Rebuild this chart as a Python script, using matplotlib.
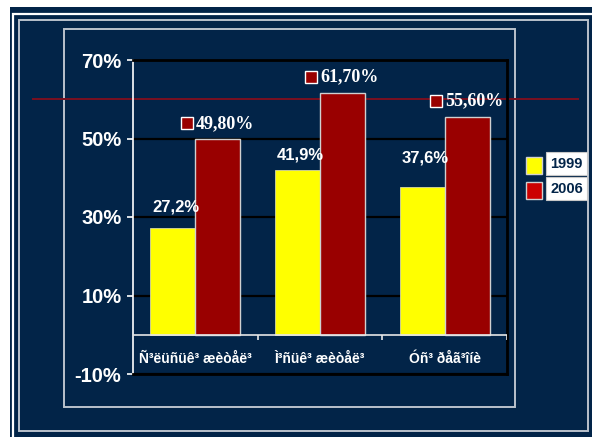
import matplotlib
matplotlib.use("Agg")
import matplotlib.pyplot as plt
import numpy as np
from matplotlib.patches import Rectangle
from matplotlib.transforms import offset_copy

# data
categories = ["Ñ³ëüñüê³ æèòåë³", "Ì³ñüê³ æèòåë³", "Óñ³ ðåã³îíè"]
years = ["1999", "2006"]
share_1999 = [27.2, 41.9, 37.6]
share_2006 = [49.8, 61.7, 55.6]
label_1999 = ["27,2%", "41,9%", "37,6%"]
label_2006 = ["49,80%", "61,70%", "55,60%"]
ref_level = 60
yticks = [-10, 10, 30, 50, 70]

NAVY = "#022448"
YELLOW = "#ffff00"
DARKRED = "#990000"
FRAME = "#b9c2cc"

W, H = 592, 437
def fx(x):
    return x / W
def fy(y):
    return 1 - y / H

fig = plt.figure(figsize=(W / 100, H / 100), dpi=100, facecolor="white")

# background and frames
fig.add_artist(Rectangle((fx(10), 0), 1 - fx(10), fy(7), transform=fig.transFigure,
                         fc=NAVY, ec="none", zorder=0))
fig.add_artist(Rectangle((fx(13), fy(440)), 1, fy(14) - fy(440), transform=fig.transFigure,
                         fc="none", ec="white", lw=1.6, zorder=1))
fig.add_artist(Rectangle((fx(19), fy(431)), fx(588) - fx(19), fy(20) - fy(431),
                         transform=fig.transFigure, fc="none", ec=FRAME, lw=1.4, zorder=1))
fig.add_artist(Rectangle((fx(64), fy(407)), fx(515) - fx(64), fy(29) - fy(407),
                         transform=fig.transFigure, fc="none", ec=FRAME, lw=1.4, zorder=1))

ax = fig.add_axes([fx(133), fy(374), fx(507) - fx(133), fy(60) - fy(374)])
ax.set_zorder(2)
ax.set_facecolor("none")

x = np.arange(len(categories))
bw = 0.36
b1 = ax.bar(x - bw / 2, share_1999, bw, color=YELLOW, edgecolor="#d8d8a0", lw=0.6, zorder=3)
b2 = ax.bar(x + bw / 2, share_2006, bw, color=DARKRED, edgecolor="#d0d0d0", lw=1.0, zorder=3)

ax.set_xlim(-0.5, len(categories) - 0.5)
ax.set_ylim(-10, 70)
ax.set_yticks(yticks)
ax.set_yticklabels([f"{v}%" for v in yticks])
ax.set_xticks([])
ax.set_axisbelow(True)
ax.yaxis.grid(True, color="black", lw=1.6)
ax.tick_params(axis="y", colors="white", length=4.3, width=1.2, pad=4)
for t in ax.get_yticklabels():
    t.set_fontfamily(["Liberation Sans", "DejaVu Sans"])
    t.set_fontweight("bold")
    t.set_fontsize(14.5)
    t.set_color("white")

ax.spines["left"].set_color("white")
ax.spines["left"].set_linewidth(1.2)
for s in ["top", "right", "bottom"]:
    ax.spines[s].set_color("black")
    ax.spines[s].set_linewidth(2.0)

# category axis at zero
ax.axhline(0, color="#e6e6e6", lw=1.2, zorder=4)
ax.vlines(np.arange(len(categories)) + 0.5, -1.3, 0, color="#e6e6e6", lw=1.2, zorder=4)
for xi, name in zip(x, categories):
    ax.text(xi, -6.3, name, ha="center", va="center", color="white", fontsize=10,
            fontweight="bold",
            family=["Liberation Sans Narrow", "Liberation Sans", "DejaVu Sans"])

# reference level line
ax.axhline(ref_level, xmin=-0.267, xmax=1.19, color="#7a1020", lw=1.4, clip_on=False, zorder=2)

# value labels for 1999
lift_1999 = [21, 15, 29]
for xi, v, lab, d in zip(x, share_1999, label_1999, lift_1999):
    tr = offset_copy(ax.transData, fig, x=3, y=d, units="dots")
    ax.text(xi - bw / 2, v, lab, transform=tr, ha="center", va="center", color="white",
            fontsize=12, fontweight="bold", family=["Liberation Sans", "DejaVu Sans"], zorder=6)

# value labels for 2006 with key square
for xi, v, lab in zip(x, share_2006, label_2006):
    tr = offset_copy(ax.transData, fig, x=7.5, y=16, units="dots")
    ax.text(xi + bw / 2, v, lab, transform=tr, ha="center", va="center", color="white",
            fontsize=13, fontweight="bold", family=["Liberation Serif", "DejaVu Serif"], zorder=6)
    trs = offset_copy(ax.transData, fig, x=-31, y=16, units="dots")
    ax.plot([xi + bw / 2], [v], transform=trs, marker="s", ms=8.5, mfc=DARKRED, mec="white",
            mew=1.0, clip_on=False, zorder=6)

# legend
for i, (yr, col) in enumerate(zip(years, [YELLOW, "#cc0000"])):
    top = 157 + i * 25
    fig.add_artist(Rectangle((fx(526), fy(top + 17)), fx(542) - fx(526), fy(top) - fy(top + 17),
                             transform=fig.transFigure, fc=col, ec="#d0d0d0", lw=1.0, zorder=3))
    fig.add_artist(Rectangle((fx(546), fy(top + 18)), fx(587) - fx(546), fy(top - 5) - fy(top + 18),
                             transform=fig.transFigure, fc="white", ec="#c8c8c8", lw=0.8, zorder=3))
    fig.text(fx(566.5), fy(top + 7), yr, ha="center", va="center", color=NAVY, fontsize=10.5,
             fontweight="bold", family=["Liberation Sans", "DejaVu Sans"], zorder=4)

fig.savefig("out.png", dpi=100, facecolor="white")
